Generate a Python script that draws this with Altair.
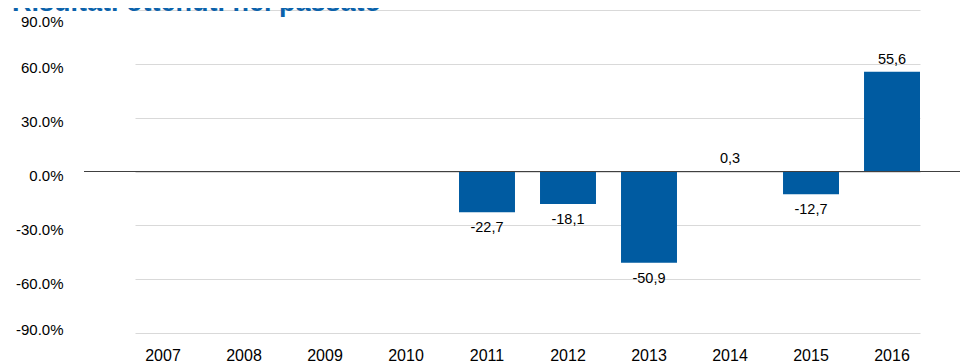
import altair as alt
import pandas as pd

# ---- data ----
years = ["2007", "2008", "2009", "2010", "2011", "2012", "2013", "2014", "2015", "2016"]
returns = [None, None, None, None, -22.7, -18.1, -50.9, 0.3, -12.7, 55.6]
y_ticks = [-90, -60, -30, 0, 30, 60, 90]
title_text = "Risultati ottenuti nel passato"

BAR = "#005BA1"
TITLE = "#0A62AB"
GRID = "#D9D9D9"
FONT = "Liberation Sans, Arial, sans-serif"

W, H = 876, 323

df = pd.DataFrame({"year": years, "value": returns})
df_title = pd.DataFrame({"t": [title_text]})
df_zero = pd.DataFrame({"z": [0]})

xscale = alt.Scale(domain=years, range=[51, 836], paddingInner=0.309, paddingOuter=0)
yscale = alt.Scale(domain=[-90, 90], nice=False, zero=False)

x_enc = alt.X(
    "year:N",
    scale=xscale,
    sort=years,
    axis=alt.Axis(
        title=None, labelAngle=0, ticks=False, domain=False, grid=False,
        labelFont=FONT, labelFontSize=16, labelColor="#000000", labelPadding=14,
    ),
)

bars = alt.Chart(df).mark_bar(color=BAR).encode(
    x=x_enc,
    y=alt.Y(
        "value:Q",
        scale=yscale,
        axis=alt.Axis(
            title=None, values=y_ticks,
            labelExpr="replace(format(datum.value, '.1f'), '\u2212', '-') + '%'",
            ticks=False, domain=False, grid=True, gridColor=GRID, gridWidth=1,
            labelPadding=21, labelFlush=True, labelOffset=4,
            labelFont=FONT, labelFontSize=15, labelColor="#000000",
        ),
    ),
)

zero = alt.Chart(df_zero).mark_rule(color="#404040", strokeWidth=1).encode(
    y=alt.Y("z:Q", scale=yscale)
)

lab = alt.Chart(df).transform_filter("isValid(datum.value)").transform_calculate(
    label="replace(replace(format(datum.value, '.1f'), '.', ','), '\u2212', '-')"
)

pos_labels = lab.transform_filter("datum.value >= 0").mark_text(
    baseline="bottom", dy=-5, font=FONT, fontSize=14.5, color="#000000"
).encode(x=alt.X("year:N", scale=xscale, sort=years), y=alt.Y("value:Q", scale=yscale), text="label:N")

neg_labels = lab.transform_filter("datum.value < 0").mark_text(
    baseline="top", dy=9, font=FONT, fontSize=14.5, color="#000000"
).encode(x=alt.X("year:N", scale=xscale, sort=years), y=alt.Y("value:Q", scale=yscale), text="label:N")

title = alt.Chart(df_title).mark_text(
    align="left", baseline="alphabetic", font=FONT, fontSize=27, fontWeight="bold", color=TITLE
).encode(x=alt.value(-72), y=alt.value(1), text="t:N")

chart = (
    alt.layer(bars, zero, pos_labels, neg_labels, title)
    .properties(
        width=W, height=H,
        autosize=alt.AutoSizeParams(type="none"),
        padding={"left": 76, "top": 2, "right": 0, "bottom": 30},
        background="white",
    )
    .configure_view(stroke=None)
)

chart.save("out.html", embed_options={"renderer": "svg", "actions": False})
